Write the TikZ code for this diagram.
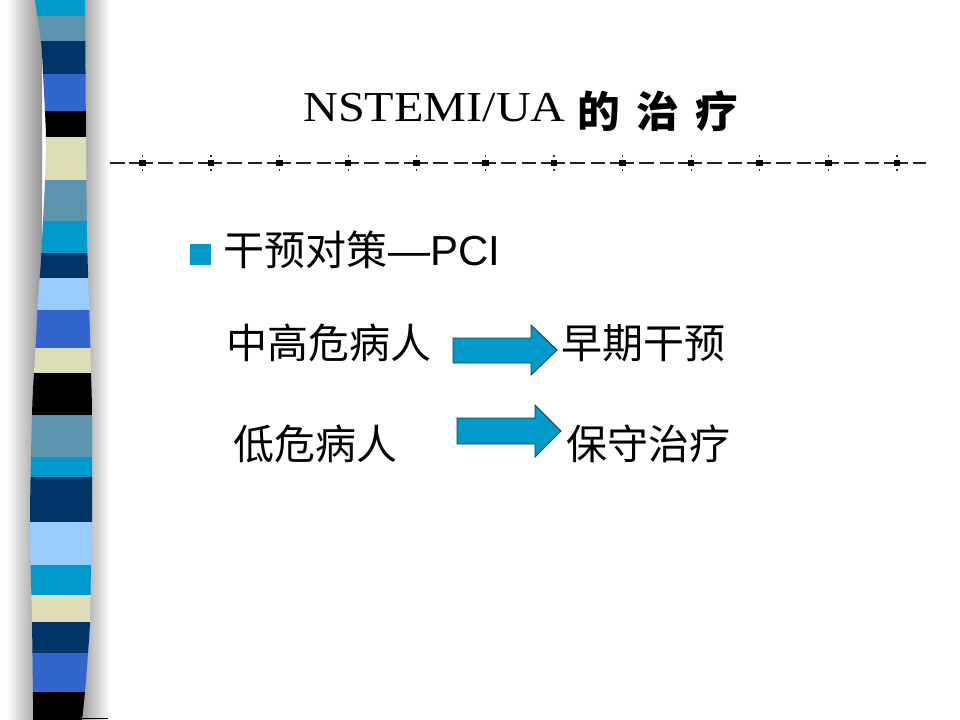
\documentclass[tikz,border=0pt]{standalone}
\usepackage{fontspec}
\setmainfont{Liberation Serif}
\newfontfamily\cjk{Noto Sans CJK SC}
\newfontfamily\arial{Liberation Sans}
\definecolor{cyanb}{RGB}{0,153,204}
\definecolor{steel}{RGB}{92,148,174}
\definecolor{navy}{RGB}{0,51,102}
\definecolor{royal}{RGB}{51,102,204}
\definecolor{beige}{RGB}{221,221,184}
\definecolor{lightb}{RGB}{153,204,255}
\definecolor{arrowline}{RGB}{30,60,90}
\tikzset{
  dl/.style={line width=1.5pt, black!85},
  bodytext/.style={inner sep=0pt, anchor=base west, font=\cjk\fontsize{30.75}{36}\selectfont},
  titlech/.style={inner sep=0pt, anchor=center, font=\cjk\bfseries\fontsize{32}{36}\selectfont},
  blockarrow/.style={fill=cyanb, draw=arrowline, line width=0.7pt, line join=miter}
}
\begin{document}
\begin{tikzpicture}[x=0.75pt,y=-0.75pt]
\useasboundingbox (0,0) rectangle (960,720);
\fill[white] (0,0) rectangle (960,720);
% shadows of the stripe
\shade[left color=white, right color=gray!85] (6,0) rectangle (42,720);
\shade[left color=gray!75, right color=white] (82,0) rectangle (110,720);
% stripe
\begin{scope}
\clip plot[smooth] coordinates {(35,0) (41,41) (43,74) (46,137) (45,180) (43,221) (41,260) (38,300) (36,340) (34,373) (32,415) (30,522) (32,622) (33,700) (33,720)}
  -- plot[smooth] coordinates {(82,720) (85,692) (88,653) (90,622) (91,565) (92,522) (92,415) (91,373) (89,300) (87,237) (86,137) (85,0)} -- cycle;
\foreach \ya/\yb/\col in {0/16/cyanb, 16/41/steel, 41/74/navy, 74/111/royal, 111/137/black, 137/180/beige, 180/221/steel, 221/253/cyanb, 253/278/navy, 278/310/lightb, 310/348/royal, 348/373/beige, 373/415/black, 415/457/steel, 457/477/cyanb, 477/522/navy, 522/565/lightb, 565/595/cyanb, 595/622/beige, 622/653/navy, 653/692/royal, 692/720/black}
  \fill[\col] (20,\ya) rectangle (100,\yb);
\end{scope}
\draw[line width=0.9pt] (80,718.5) -- (108,718.5);
% dashed rule with squares
\draw[dl] (110,163) -- (125,163);
\foreach \k in {0,...,10} {
  \pgfmathsetmacro\c{142.3+68.6*\k}
  \draw[dl] ({\c-13},163) -- ({\c+11},163);
  \draw[dl] ({\c+16},163) -- ({\c+31},163);
  \draw[dl] ({\c+37},163) -- ({\c+51},163);
}
\draw[dl] (884,163) -- (908,163);
\draw[dl] (913,163) -- (926,163);
\foreach \k in {0,...,11} {
  \pgfmathsetmacro\c{142.3+68.6*\k}
  \fill ({\c-3.3},159.7) rectangle ({\c+3.3},166.3);
  \fill[black!80] ({\c-0.6},155.4) rectangle ({\c+0.6},156.8);
  \fill[black!80] ({\c-0.6},169.2) rectangle ({\c+0.6},170.6);
}
% title
\node[inner sep=0pt, anchor=base west, font=\fontsize{32}{36}\selectfont] (tlat) at (303,122) {\scalebox{1.13}[1]{NSTEMI/UA}};
\node[titlech] (ta) at (599,111.5) {的};
\node[titlech] (tb) at (657.5,111.5) {治};
\node[titlech] (tc) at (716.5,111.5) {疗};
% bullet line
\fill[cyanb] (190,244) rectangle (211,265);
\node[bodytext] (pci) at (223,266) {干预对策{\arial\fontsize{31.5}{36}\selectfont\hspace{1pt}—PCI}};
% rows
\node[bodytext] (r1a) at (226,358) {中高危病人};
\node[bodytext] (r1b) at (561,358) {早期干预};
\node[bodytext] (r2a) at (233,459) {低危病人};
\node[bodytext] (r2b) at (566,459) {保守治疗};
% block arrows
\draw[blockarrow] (453,338) -- (531,338) -- (531,325) -- (557,350) -- (531,375) -- (531,363) -- (453,363) -- cycle;
\draw[blockarrow] (457,418) -- (535,418) -- (535,405) -- (561,431) -- (535,457) -- (535,444) -- (457,444) -- cycle;
\end{tikzpicture}
\end{document}
